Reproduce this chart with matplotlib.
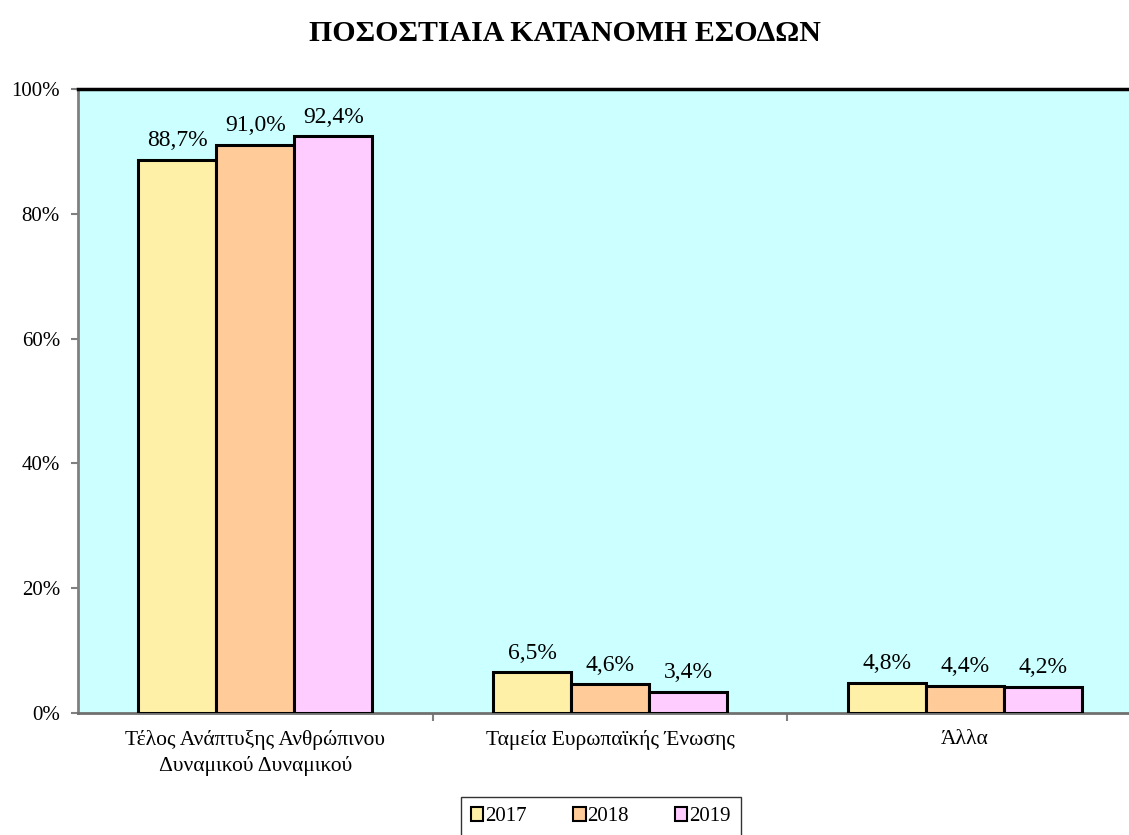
import numpy as np
import matplotlib.pyplot as plt
from matplotlib.patches import Patch

# data
categories = ["Τέλος Ανάπτυξης Ανθρώπινου\nΔυναμικού Δυναμικού",
              "Ταμεία Ευρωπαϊκής Ένωσης",
              "Άλλα"]
years = ["2017", "2018", "2019"]
values_2017 = [88.7, 6.5, 4.8]
values_2018 = [91.0, 4.6, 4.4]
values_2019 = [92.4, 3.4, 4.2]
y_ticks = [0, 20, 40, 60, 80, 100]

colors = ["#FFF0A8", "#FFCC99", "#FFCCFF"]

plt.rcParams['font.family'] = ['Liberation Serif', 'DejaVu Serif']

fig = plt.figure(figsize=(11.29, 8.35), dpi=100)
ax = fig.add_axes([78 / 1129, 122 / 835, 1064 / 1129, 624 / 835])
ax.set_facecolor("#CCFFFF")

x = np.arange(len(categories))
width = 0.22
series = [values_2017, values_2018, values_2019]
for i, (vals, col) in enumerate(zip(series, colors)):
    pos = x + (i - 1) * width
    ax.bar(pos, vals, width=width, color=col,
           edgecolor="black", linewidth=2.2, zorder=3)
    for xp, v in zip(pos, vals):
        ax.text(xp, v + 1.4, f"{v:.1f}%".replace(".", ","),
                ha="center", va="bottom", fontsize=17)

ax.set_xlim(-0.5, len(categories) - 0.5)
ax.set_ylim(0, 100)
ax.set_yticks(y_ticks)
ax.set_yticklabels([f"{t}%" for t in y_ticks], fontsize=15)
ax.set_xticks([0.5, 1.5])
ax.set_xticklabels([])
ax.tick_params(axis="x", length=6, width=1.5, color="#808080")
ax.tick_params(axis="y", length=5, width=1.5, color="#808080", pad=8)
for i, c in enumerate(categories):
    ax.text(i, -2.8, c, ha="center", va="top", fontsize=15.5,
            linespacing=1.35)

ax.spines["left"].set_color("#808080")
ax.spines["left"].set_linewidth(2)
ax.spines["bottom"].set_color("#707070")
ax.spines["bottom"].set_linewidth(2)
ax.spines["top"].set_color("black")
ax.spines["top"].set_linewidth(2.5)
ax.spines["right"].set_visible(False)

fig.text(0.5, 0.960, "ΠΟΣΟΣΤΙΑΙΑ ΚΑΤΑΝΟΜΗ ΕΣΟΔΩΝ", ha="center",
         va="center", fontsize=21.5, fontweight="bold")

handles = [Patch(facecolor=c, edgecolor="black", linewidth=1.5) for c in colors]
leg = fig.legend(handles, years, loc="upper center",
                 bbox_to_anchor=(601 / 1129, 1 - 797 / 835),
                 ncol=3, fontsize=15, frameon=True, fancybox=False,
                 handlelength=0.6, handleheight=0.6, handletextpad=0.1,
                 columnspacing=2.2, borderpad=0.5, borderaxespad=0)
leg.get_frame().set_edgecolor("black")
leg.get_frame().set_linewidth(1)

fig.savefig("out.png", dpi=100)
